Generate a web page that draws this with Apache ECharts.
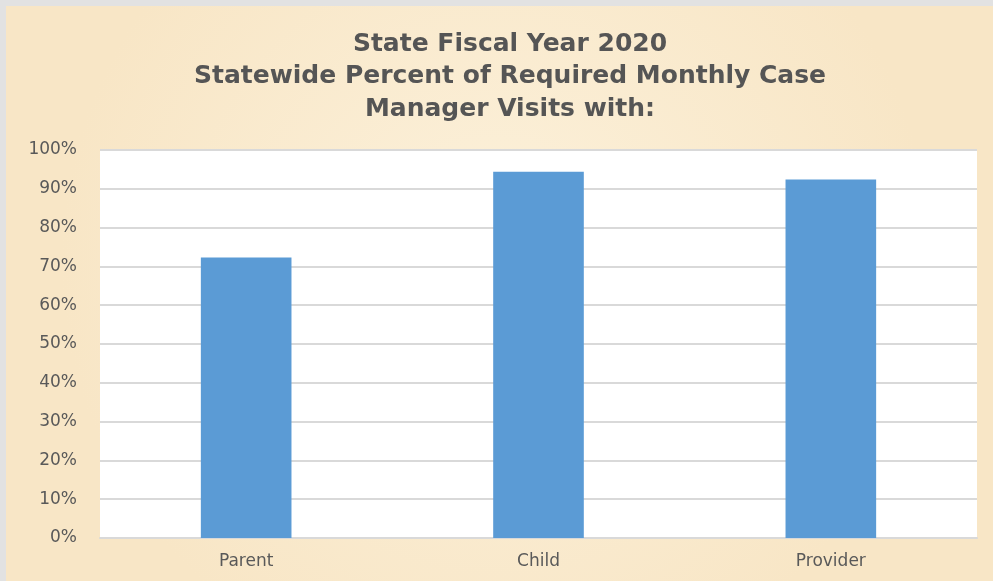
<!DOCTYPE html>
<html>
<head>
<meta charset="utf-8">
<script src="https://cdn.jsdelivr.net/npm/echarts@6/dist/echarts.min.js"></script>
<style>
  html, body { margin: 0; padding: 0; background: #fff; }
  #visitsChart { width: 993px; height: 581px; }
</style>
</head>
<body>
<div id="visitsChart"></div>
<script>
// chart data
var categories = ['Parent', 'Child', 'Provider'];
var visitPercent = [72.3, 94.4, 92.4];
var titleLines = ['State Fiscal Year 2020', 'Statewide Percent of Required Monthly Case', 'Manager Visits with:'];

var visitsChart = echarts.init(document.getElementById('visitsChart'));

var visitsOption = {
  backgroundColor: {
    type: 'radial',
    x: 0.5,
    y: 0.45,
    r: 0.75,
    colorStops: [
      { offset: 0, color: '#fcf1db' },
      { offset: 1, color: '#f8e6c6' }
    ]
  },
  title: {
    text: titleLines.join('\n'),
    left: 505,
    top: 23,
    textAlign: 'center',
    textStyle: {
      fontFamily: 'DejaVu Sans',
      fontWeight: 'bold',
      fontSize: 25,
      lineHeight: 32.5,
      color: '#555555'
    }
  },
  graphic: [
    // grey frame on the top and left edges
    { type: 'rect', left: 0, top: 0, shape: { width: 993, height: 6 }, style: { fill: '#e2e2e2' } },
    { type: 'rect', left: 0, top: 0, shape: { width: 6, height: 581 }, style: { fill: '#e2e2e2' } }
  ],
  grid: {
    show: true,
    left: 100,
    right: 16,
    top: 150,
    bottom: 43,
    backgroundColor: '#ffffff',
    borderWidth: 0
  },
  xAxis: {
    type: 'category',
    data: categories,
    axisTick: { show: false },
    axisLine: { lineStyle: { color: '#d9d9d9', width: 2 } },
    axisLabel: {
      margin: 15,
      fontFamily: 'DejaVu Sans',
      fontSize: 17,
      color: '#595959'
    }
  },
  yAxis: {
    type: 'value',
    min: 0,
    max: 100,
    interval: 10,
    axisLine: { show: false },
    axisTick: { show: false },
    splitLine: { lineStyle: { color: '#d9d9d9', width: 2 } },
    axisLabel: {
      margin: 23,
      fontFamily: 'DejaVu Sans',
      fontSize: 17,
      color: '#595959',
      formatter: '{value}%'
    }
  },
  series: [
    {
      name: 'Visits',
      type: 'bar',
      barWidth: '31%',
      itemStyle: { color: '#5b9bd5' },
      data: visitPercent
    }
  ]
};

visitsChart.setOption(visitsOption);
</script>
</body>
</html>
